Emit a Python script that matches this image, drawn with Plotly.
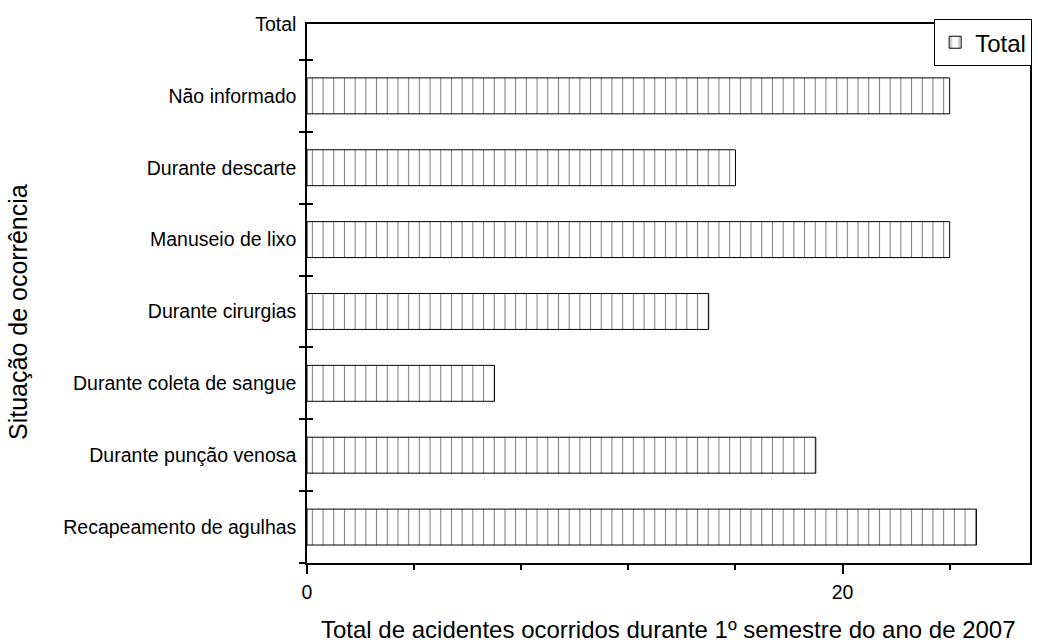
import plotly.graph_objects as go

categories = ["Recapeamento de agulhas", "Durante punção venosa", "Durante coleta de sangue",
              "Durante cirurgias", "Manuseio de lixo", "Durante descarte", "Não informado", "Total"]
values = [25, 19, 7, 15, 24, 16, 24, None]
series_name = "Total"
x_title = "Total de acidentes ocorridos durante 1º semestre do ano de 2007"
y_title = "Situação de ocorrência"

FONT = "Liberation Sans, Arial, sans-serif"

fig = go.Figure()
fig.add_trace(go.Bar(
    y=categories, x=values, orientation="h", name=series_name, width=0.5,
    marker=dict(color="white", line=dict(color="black", width=1),
                pattern=dict(shape="|", size=10.7, solidity=0.1, fgcolor="black", bgcolor="white")),
    showlegend=True,
))
# invisible copy for crossing ticks on the overlaid axis
fig.add_trace(go.Bar(
    y=categories, x=values, orientation="h", yaxis="y2", width=0.5,
    marker=dict(color="rgba(0,0,0,0)", line=dict(width=0)), showlegend=False, hoverinfo="skip",
))

fig.update_layout(
    width=1038, height=642,
    margin=dict(l=307, r=8, t=24, b=79, autoexpand=False),
    paper_bgcolor="white", plot_bgcolor="white",
    font=dict(family=FONT, color="black", size=19.5),
    barmode="overlay",
    xaxis=dict(range=[0, 27], dtick=20, tick0=0, ticks="outside", ticklen=9, tickwidth=1.5,
               tickcolor="black", showgrid=False, zeroline=False, showline=True, linecolor="black",
               linewidth=1.5, mirror=True, tickfont=dict(size=19.5), automargin=False,
               ticklabelstandoff=2,
               minor=dict(dtick=4, tick0=0, ticks="outside", ticklen=5, tickwidth=1.5, tickcolor="black", showgrid=False)),
    yaxis=dict(type="category", categoryorder="array", categoryarray=categories, range=[-0.5, 7],
               tickson="boundaries", ticks="outside", ticklen=6, tickwidth=1.5, tickcolor="black",
               showgrid=False, zeroline=False, showline=True, linecolor="black", linewidth=1.5,
               mirror=True, tickfont=dict(size=19.5), automargin=False, ticklabelstandoff=5),
    yaxis2=dict(type="category", categoryorder="array", categoryarray=categories, range=[-0.5, 7],
                overlaying="y", side="left", tickson="boundaries", ticks="inside", ticklen=6,
                tickwidth=1.5, tickcolor="black", showticklabels=False, showgrid=False,
                zeroline=False, showline=False, automargin=False),
    legend=dict(x=1.003, y=1.009, xanchor="right", yanchor="top", bordercolor="black", borderwidth=1,
                bgcolor="white", font=dict(size=24, family=FONT), tracegroupgap=0),
    annotations=[
        dict(text=x_title, xref="paper", yref="paper", x=0.5, y=-0.1243, xanchor="center",
             yanchor="middle", showarrow=False, font=dict(size=24)),
        dict(text=y_title, xref="paper", yref="paper", x=-0.3997, y=0.4657, xanchor="center",
             yanchor="middle", showarrow=False, textangle=-90, font=dict(size=25)),
    ],
)

fig.write_html("out.html", config={"displayModeBar": False},
               post_script="document.body.style.margin='0';document.body.style.overflow='hidden';")
